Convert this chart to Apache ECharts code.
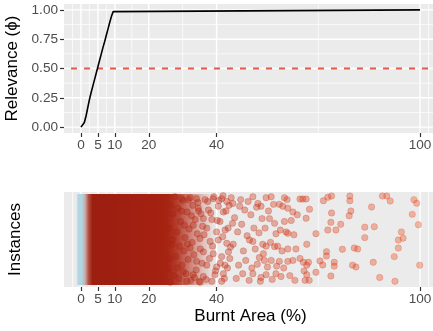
<!DOCTYPE html>
<html><head><meta charset="utf-8">
<script src="https://cdn.jsdelivr.net/npm/echarts@6/dist/echarts.min.js"></script>
<style>html,body{margin:0;padding:0;background:#fff}#c{width:433px;height:331px}</style>
</head><body><div id="c"></div>
<script>
// ---- data ----
const xTicks = [0, 5, 10, 20, 40, 100];
const xMinorBreaks = [-2.5, 2.5, 7.5, 15, 30, 70, 102.5];
const yTicks = [0, 0.25, 0.5, 0.75, 1];
const yMinorBreaks = [0.125, 0.375, 0.625, 0.875];
const relevanceX = [0, 0.5, 1, 1.5, 2, 2.5, 3, 3.5, 4, 4.5, 5, 5.5, 6, 6.5, 7, 7.5, 8, 8.5, 9, 9.5, 10, 100];
const relevanceY = [0, 0.01, 0.04, 0.095, 0.165, 0.235, 0.295, 0.35, 0.405, 0.46, 0.515, 0.57, 0.625, 0.68, 0.73, 0.785, 0.84, 0.895, 0.945, 0.985, 1, 1];
const threshold = 0.5;
// density of the overplotted instance band (x, opacity)
const densityX = [-1.3, -0.7, 0.4, 1.2, 2.2, 3.4, 24, 25.5, 27, 28.5, 30, 32, 34, 36, 38, 40];
const densityAlpha = [0.3, 0.85, 0.95, 0.95, 1, 1, 1, 0.98, 0.93, 0.85, 0.72, 0.55, 0.38, 0.22, 0.1, 0];
// individually visible instances [burnt area, jitter]
const instances = [
 [25.2,0.44],[25.6,-0.31],[25.9,0.12],[26.3,-0.45],[26.5,0.36],[26.8,-0.05],[27.1,0.27],[27.4,-0.38],[27.7,0.45],[28.0,-0.18],
 [28.2,0.08],[28.6,0.33],[28.9,-0.41],[29.1,-0.07],[29.4,0.19],[29.8,-0.27],[30.1,0.41],[30.3,-0.12],[30.7,0.02],[31.0,-0.36],
 [31.3,0.29],[31.6,-0.21],[31.9,0.11],[32.2,0.44],[32.4,-0.43],[32.8,-0.03],[33.0,0.36],[33.3,-0.16],[33.7,0.21],[34.0,-0.32],
 [34.3,0.06],[34.5,0.39],[34.9,-0.44],[35.2,-0.1],[35.4,0.27],[35.7,-0.25],[26.0,-0.2],[27.0,0.0],[28.4,-0.3],[29.6,0.3],
 [30.5,0.15],[31.4,-0.05],[32.6,0.25],[33.5,-0.4],[34.7,0.3],[35.9,0.14],
 [29.7,0.43],[31.7,0.42],[34.1,0.43],[36.6,0.42],[39.0,0.43],[41.5,0.43],[43.0,0.40],[34.6,0.33],[37.6,0.31],[40.5,0.35],
 [42.0,0.29],[36.1,0.22],[38.6,0.21],[41.0,0.19],[33.1,0.15],[37.1,0.12],[40.0,0.08],[42.5,0.10],[35.1,0.01],[38.1,-0.02],
 [40.5,-0.005],[43.0,-0.04],[32.2,-0.09],[36.1,-0.13],[39.0,-0.15],[41.5,-0.18],[43.5,-0.13],[34.1,-0.23],[37.1,-0.27],[40.0,-0.29],
 [42.5,-0.27],[30.2,-0.34],[33.1,-0.37],[36.1,-0.39],[39.5,-0.37],[42.0,-0.36],[31.2,-0.44],[35.1,-0.45],[38.6,-0.44],[41.5,-0.44],
 [36.3,0.05],[36.9,-0.42],[37.4,0.4],[37.9,-0.2],[38.3,0.28],[38.8,-0.07],[39.2,0.45],[39.7,-0.33],[40.2,0.2],[40.7,0.41],
 [41.1,-0.25],[41.8,0.03],[42.3,-0.41],[43.2,-0.3],[43.7,0.36],[44.1,-0.08],[44.7,0.17],
 [42.8,0.3],[43.4,0.12],[43.9,-0.2],[44.3,0.44],[44.9,-0.05],[45.3,0.23],[45.8,-0.41],[46.2,0.08],[46.5,-0.27],[47.1,0.42],
 [47.4,0.16],[47.9,-0.12],[48.3,0.31],[48.6,-0.22],[49.0,0.04],[49.3,0.4],[49.6,-0.43],[50.1,0.26],[50.4,-0.3],[51.0,0.12],
 [51.4,-0.1],[51.8,0.34],[52.0,-0.26],[52.5,0.07],[52.9,-0.44],[53.4,0.22],[53.8,-0.15],[54.3,0.12],[55.0,-0.29],[55.3,0.3],
 [55.9,-0.03],[56.4,-0.42],[56.8,0.37],[57.7,-0.28],[58.8,0.1],[59.3,-0.12],[59.8,-0.3],[60.8,0.42],[61.6,-0.38],[62.8,0.05],
 [63.1,-0.43],[63.8,0.26],
 [41.9,0.46],[50.7,0.45],[54.6,0.44],[56.1,0.45],[60.0,0.44],[44.8,0.38],[46.8,0.35],[52.2,0.38],[53.1,0.35],[58.5,0.37],
 [59.5,0.35],[61.0,0.33],[62.5,0.29],[55.6,0.22],[57.1,0.17],[60.0,0.19],[62.0,0.20],[57.5,0.06],[60.5,0.08],[61.0,0.065],
 [49.7,-0.005],[50.7,-0.02],[53.6,-0.05],[54.6,-0.07],[57.1,-0.075],[58.0,-0.07],[61.0,-0.10],[63.4,-0.10],[52.6,-0.19],[54.1,-0.22],
 [56.1,-0.22],[58.5,-0.23],[61.0,-0.23],[62.5,-0.22],[47.7,-0.36],[50.7,-0.36],[53.1,-0.40],[54.6,-0.37],[57.5,-0.36],[59.0,-0.39],
 [64.6,0.426],[65.4,0.426],[66.4,0.426],[67.4,0.318],[66.4,0.223],[69.3,0.061],[66.6,-0.05],[64.6,-0.2],[65.6,-0.24],[66.6,-0.27],
 [67.1,-0.24],[65.8,-0.33],[66.6,-0.37],[67.3,-0.43],[66.1,-0.43],[69.3,-0.345],[70.5,-0.226],[71.3,-0.268],[71.5,0.408],[72.8,0.444],
 [73.9,0.458],[73.9,0.279],[73.7,0.181],[72.8,0.1],[75.2,0.1],[76.6,0.16],[72.4,-0.128],[72.4,-0.174],[74.7,-0.24],[74.7,-0.28],
 [73.7,-0.384],[77.1,-0.103],[79.3,0.408],[79.3,0.458],[79.6,0.3],[79.1,0.25],[80.6,-0.09],[81.6,-0.1],[80.1,-0.27],[81.1,-0.29],
 [88.9,0.458],[90.2,0.458],[91.2,0.405],[85.7,0.342],[98.2,0.419],[99.0,0.381],[97.7,0.265],[99.5,0.156],[83.7,0.13],[86.5,0.135],
 [83.7,0.02],[94.5,0.08],[93.6,-0.005],[95.0,0.013],[93.6,-0.09],[92.4,-0.18],[86.2,-0.24],[99.9,-0.27],[88.1,-0.4],[92.6,-0.44]
];

// ---- styling ----
const FONT = 'Liberation Sans, Arial, Helvetica, sans-serif';
const xMin = -5, xMax = 105;
const POINT_ALPHA = 0.36;
const colorStops = [
 [-1.5,[170,210,222]],[0.4,[170,210,222]],[1.2,[205,165,165]],[2.2,[178,82,66]],
 [3.4,[155,30,16]],[25,[165,33,16]],[45,[200,42,14]],[100,[238,78,30]]
];
function colorAt(x) {
  if (x <= colorStops[0][0]) return colorStops[0][1];
  for (let i = 1; i < colorStops.length; i++) {
    if (x <= colorStops[i][0]) {
      const a = colorStops[i-1], b = colorStops[i];
      const t = (x - a[0]) / (b[0] - a[0]);
      return a[1].map((v, k) => Math.round(v + (b[1][k] - v) * t));
    }
  }
  return colorStops[colorStops.length-1][1];
}
const rgba = (c, a) => `rgba(${c[0]},${c[1]},${c[2]},${a})`;

function vGrid(vals, gi, yLo, yHi, w) {
  return {type:'custom', xAxisIndex:gi, yAxisIndex:gi, z:1, silent:true, clip:true,
    data: vals.map(v => [v, yLo]),
    renderItem(p, api) {
      const v = api.value(0);
      const a = api.coord([v, yLo]), b = api.coord([v, yHi]);
      return {type:'line', shape:{x1:a[0], y1:a[1], x2:b[0], y2:b[1]}, style:{stroke:'#fff', lineWidth:w}};
    }};
}
function hGrid(vals, gi, w) {
  return {type:'custom', xAxisIndex:gi, yAxisIndex:gi, z:1, silent:true, clip:true,
    data: vals.map(v => [0, v]),
    renderItem(p, api) {
      const v = api.value(1);
      const a = api.coord([xMin, v]), b = api.coord([xMax, v]);
      return {type:'line', shape:{x1:a[0], y1:a[1], x2:b[0], y2:b[1]}, style:{stroke:'#fff', lineWidth:w}};
    }};
}

const bandTop = 0.48, bandBottom = -0.48;
const chart = echarts.init(document.getElementById('c'), null, {renderer:'canvas'});
const tickStyle = {show:true, length:4, lineStyle:{color:'#333333', width:1.2}};
const hiddenLine = {show:true, onZero:false, lineStyle:{color:'rgba(0,0,0,0)', width:0}};
const xAxisBase = (gi) => ({
  gridIndex: gi, type:'value', min:xMin, max:xMax, position:'bottom',
  axisLine:hiddenLine, splitLine:{show:false},
  axisTick:Object.assign({customValues:xTicks}, tickStyle),
  axisLabel:{customValues:xTicks, color:'#4d4d4d', fontSize:13.6, margin:5, fontFamily:FONT}
});
chart.setOption({
  animation:false,
  backgroundColor:'#fff',
  grid:[
    {left:64, top:4, width:373, height:129, show:true, backgroundColor:'#EBEBEB', borderWidth:0, outerBoundsMode:'none', containLabel:false},
    {left:64, top:192, width:373, height:95, show:true, backgroundColor:'#EBEBEB', borderWidth:0, outerBoundsMode:'none', containLabel:false}
  ],
  xAxis:[
    xAxisBase(0),
    Object.assign(xAxisBase(1), {name:'Burnt Area (%)', nameLocation:'middle', nameGap:21,
      nameTextStyle:{fontSize:17, color:'#000', fontFamily:FONT}})
  ],
  yAxis:[
    {gridIndex:0, type:'value', min:-0.05, max:1.05, position:'left',
     axisLine:hiddenLine, splitLine:{show:false},
     axisTick:Object.assign({customValues:yTicks}, tickStyle),
     axisLabel:{customValues:yTicks, formatter:(v)=>v.toFixed(2), color:'#4d4d4d', fontSize:13.6, margin:6, fontFamily:FONT},
     name:'Relevance (\u03D5)', nameLocation:'middle', nameGap:40,
     nameTextStyle:{fontSize:17, color:'#000', fontFamily:FONT}},
    {gridIndex:1, type:'value', min:-0.5, max:0.5, position:'left',
     axisLine:{show:false, onZero:false}, splitLine:{show:false}, axisTick:{show:false}, axisLabel:{show:false},
     name:'Instances', nameLocation:'middle', nameGap:40,
     nameTextStyle:{fontSize:17, color:'#000', fontFamily:FONT}}
  ],
  series:[
    vGrid(xMinorBreaks, 0, -0.05, 1.05, 0.7),
    hGrid(yMinorBreaks, 0, 0.7),
    vGrid(xTicks, 0, -0.05, 1.05, 1.4),
    hGrid(yTicks, 0, 1.4),
    vGrid(xMinorBreaks, 1, -0.5, 0.5, 0.7),
    vGrid(xTicks, 1, -0.5, 0.5, 1.4),
    {type:'line', xAxisIndex:0, yAxisIndex:0, z:3, silent:true, symbol:'none',
     data:[[xMin, threshold],[xMax, threshold]],
     lineStyle:{color:'#e3574b', width:2, type:[6,7], dashOffset:6}},
    {type:'line', xAxisIndex:0, yAxisIndex:0, z:4, silent:true, symbol:'none', smooth:false,
     data: relevanceX.map((x,i)=>[x, relevanceY[i]]),
     lineStyle:{color:'#000', width:1.6}},
    {type:'custom', xAxisIndex:1, yAxisIndex:1, z:2, silent:true, clip:true,
     data:[[densityX[0], bandTop]],
     renderItem(p, api) {
       const x0 = densityX[0], x1 = densityX[densityX.length-1];
       const a = api.coord([x0, bandTop]), b = api.coord([x1, bandBottom]);
       const stops = densityX.map((x,i)=>({offset:(x-x0)/(x1-x0), color:rgba(colorAt(x), densityAlpha[i])}));
       return {type:'rect', shape:{x:a[0], y:a[1], width:b[0]-a[0], height:b[1]-a[1]},
         style:{fill:{type:'linear', x:0, y:0, x2:1, y2:0, colorStops:stops}}};
     }},
    {type:'scatter', xAxisIndex:1, yAxisIndex:1, z:3, silent:true, symbolSize:6.4,
     data: instances.map(d => ({value:d, itemStyle:{
       color:rgba(colorAt(d[0]), POINT_ALPHA), borderColor:rgba(colorAt(d[0]), POINT_ALPHA), borderWidth:0.7, opacity:1}})),
     itemStyle:{opacity:1}}
  ]
});
</script></body></html>
